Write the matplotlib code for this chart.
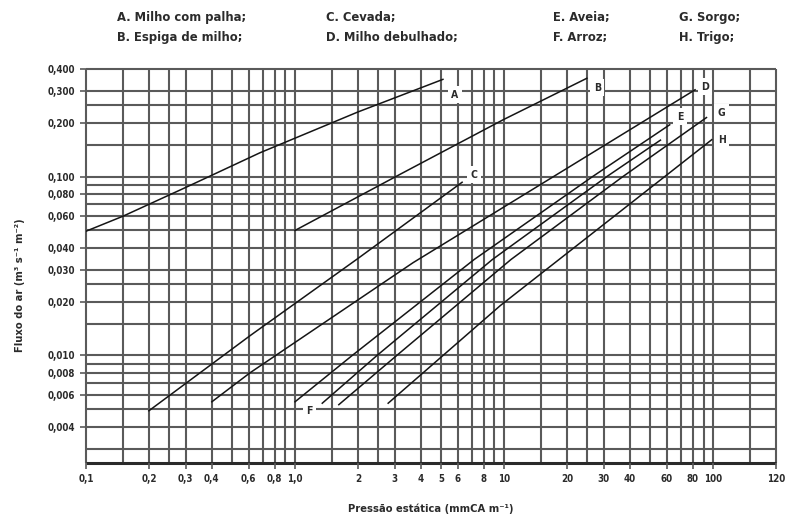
import matplotlib.pyplot as plt
from matplotlib.ticker import FixedLocator, NullLocator

plt.rcParams['font.family'] = ['Liberation Sans Narrow', 'DejaVu Sans']
plt.rcParams['font.stretch'] = 'condensed'

# ── Curvas (pressão mmCA/m, fluxo m3/s/m2) ─────────────────────────────────
a_x = [0.1, 0.15, 0.3, 0.68, 2.0, 5.1]
a_y = [0.0495, 0.060, 0.087, 0.136, 0.23, 0.35]
b_x = [1.0, 3.18, 9.9, 24.9]
b_y = [0.050, 0.103, 0.208, 0.355]
c_x = [0.2, 0.61, 1.97, 6.3]
c_y = [0.0049, 0.0129, 0.0344, 0.093]
d_x = [0.4, 0.61, 3.67, 82]
d_y = [0.0055, 0.0080, 0.0330, 0.306]
e_x = [1.0, 1.88, 7.2, 26.5, 62]
e_y = [0.0055, 0.010, 0.0344, 0.100, 0.195]
f_x = [1.35, 2.47, 8.8, 31.0, 56]
f_y = [0.0054, 0.010, 0.0344, 0.100, 0.160]
g_x = [1.62, 3.07, 10.8, 37.0, 93]
g_y = [0.0053, 0.010, 0.0344, 0.100, 0.214]
h_x = [2.79, 9.6, 98.6]
h_y = [0.0054, 0.019, 0.161]

legend_items = ["A. Milho com palha;", "B. Espiga de milho;", "C. Cevada;", "D. Milho debulhado;",
                "E. Aveia;", "F. Arroz;", "G. Sorgo;", "H. Trigo;"]

x_grid = [0.1, 0.15, 0.2, 0.25, 0.3, 0.4, 0.5, 0.6, 0.7, 0.8, 0.9, 1.0, 1.5, 2, 2.5, 3, 4, 5, 6, 7,
          8, 9, 10, 15, 20, 25, 30, 40, 50, 60, 70, 80, 90, 100, 150, 200]
x_ticks = [0.1, 0.2, 0.3, 0.4, 0.6, 0.8, 1.0, 2, 3, 4, 5, 6, 8, 10, 20, 30, 40, 60, 80, 100, 200]
x_labels = ["0,1", "0,2", "0,3", "0,4", "0,6", "0,8", "1,0", "2", "3", "4", "5", "6", "8", "10",
            "20", "30", "40", "60", "80", "100", "120"]
y_grid = [0.003, 0.004, 0.005, 0.006, 0.007, 0.008, 0.009, 0.01, 0.015, 0.02, 0.025, 0.03, 0.04,
          0.05, 0.06, 0.07, 0.08, 0.09, 0.1, 0.15, 0.2, 0.25, 0.3, 0.4]
y_ticks = [0.004, 0.006, 0.008, 0.01, 0.02, 0.03, 0.04, 0.06, 0.08, 0.1, 0.2, 0.3, 0.4]
y_labels = ["0,004", "0,006", "0,008", "0,010", "0,020", "0,030", "0,040", "0,060", "0,080",
            "0,100", "0,200", "0,300", "0,400"]

curves = [("A", a_x, a_y), ("B", b_x, b_y), ("C", c_x, c_y), ("D", d_x, d_y),
          ("E", e_x, e_y), ("F", f_x, f_y), ("G", g_x, g_y), ("H", h_x, h_y)]

# posição das letras (layout)
LABEL_POS = {"A": (5.83, 0.287), "B": (27.9, 0.314), "C": (7.2, 0.1026), "D": (91.6, 0.318),
             "E": (69.5, 0.216), "F": (1.17, 0.00487), "G": (110, 0.228), "H": (110, 0.161)}

GRID = "#5a5a5a"
TXT = "#2b2b2b"
XMIN, XMAX, YMIN, YMAX = 0.1, 200, 0.0025, 0.4

fig = plt.figure(figsize=(7.86, 5.17), dpi=100)
ax = fig.add_axes([86 / 786, 1 - 463 / 517, 690 / 786, 394 / 517])
ax.set_xscale("log")
ax.set_yscale("log")
ax.set_xlim(XMIN, XMAX)
ax.set_ylim(YMIN, YMAX)

for s in ax.spines.values():
    s.set_visible(False)

ax.vlines(x_grid, YMIN, YMAX, color=GRID, lw=1.5, zorder=1, clip_on=False)
ax.hlines(y_grid, XMIN, XMAX, color=GRID, lw=1.5, zorder=1, clip_on=False)
ax.hlines([YMIN], XMIN, XMAX, color="#2a2a2a", lw=2.2, zorder=1, clip_on=False)

for name, xs, ys in curves:
    ax.plot(xs, ys, color="#151515", lw=1.1, zorder=3)
    lx, ly = LABEL_POS[name]
    ax.text(lx, ly, name, ha="center", va="center", fontsize=7.5, fontweight="bold", color=TXT,
            zorder=4, bbox=dict(facecolor="white", edgecolor="none", pad=2.5))

ax.xaxis.set_major_locator(FixedLocator(x_ticks))
ax.xaxis.set_minor_locator(NullLocator())
ax.set_xticklabels(x_labels)
ax.yaxis.set_major_locator(FixedLocator(y_ticks))
ax.yaxis.set_minor_locator(NullLocator())
ax.set_yticklabels(y_labels)
ax.tick_params(axis="both", length=4, width=1.2, color=GRID, labelsize=7, labelcolor=TXT, pad=4)
for lab in ax.get_xticklabels() + ax.get_yticklabels():
    lab.set_fontweight("bold")

fig.text(431 / 786, 1 - 509 / 517, "Pressão estática (mmCA m⁻¹)", ha="center", va="center",
         fontsize=8, fontweight="bold", color=TXT)
fig.text(20 / 786, 1 - 285 / 517, "Fluxo do ar (m³ s⁻¹ m⁻²)", ha="center", va="center",
         rotation=90, fontsize=8, fontweight="bold", color=TXT)

leg_x = [117, 117, 326, 326, 553, 553, 679, 679]
leg_y = [17, 38, 17, 38, 17, 38, 17, 38]
for txt, px, py in zip(legend_items, leg_x, leg_y):
    fig.text(px / 786, 1 - py / 517, txt, ha="left", va="center", fontsize=9.3, fontweight="bold",
             color=TXT)

fig.savefig("out.png", dpi=100, facecolor="white")
